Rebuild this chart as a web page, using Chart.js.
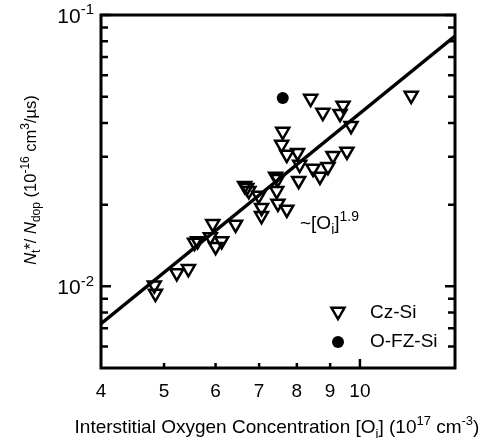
<!DOCTYPE html>
<html><head><meta charset="utf-8">
<script src="https://cdn.jsdelivr.net/npm/chart.js@4/dist/chart.umd.min.js"></script>
<style>html,body{margin:0;padding:0;background:#fff}canvas{display:block}</style>
</head><body>
<canvas id="c" width="492" height="441"></canvas>
<script>
// ---- data ----
const czX = [4.83,4.85,5.23,5.45,5.57,5.63,5.94,5.89,6.00,6.13,6.44,6.65,6.70,6.75,6.99,7.06,7.06,7.42,7.48,7.45,7.48,7.72,7.61,7.58,7.72,8.02,8.08,8.05,8.47,8.68,8.93,9.09,9.55,9.69,8.40,8.77,9.42,9.32,11.99];
const czY = [0.0101,0.0094,0.0112,0.0116,0.0145,0.0147,0.0170,0.0152,0.0140,0.0147,0.0169,0.0235,0.0231,0.0225,0.0216,0.0195,0.0182,0.0254,0.0249,0.0225,0.0202,0.0192,0.0372,0.0333,0.0306,0.0311,0.0281,0.0245,0.0272,0.0254,0.0276,0.0303,0.0314,0.0391,0.0492,0.0437,0.0464,0.0433,0.0505];
const fzX = [7.61];
const fzY = [0.0494];
const fitX = [4, 14];
const fitY = [0.00728, 0.0836];
const xTickLabels = [4,5,6,7,8,9,10];
const xMinorTicks = [5,6,7,8,9];
const xMajorTicks = [10];
const yMajorTicks = [0.01, 0.1];
const yMajorLabels = ['-2', '-1'];
const yMinorTicks = [0.006,0.007,0.008,0.009,0.02,0.03,0.04,0.05,0.06,0.07,0.08,0.09];
const seriesNames = ['Cz-Si', 'O-FZ-Si'];

const FONT = "'Liberation Sans', Arial, Helvetica, sans-serif";

function zip(a, b) { return a.map((v, i) => ({x: v, y: b[i]})); }

function drawRich(ctx, segs, x, y, size, align, ratio) {
  ratio = ratio || 0.68;
  const parts = segs.map(s => {
    const kind = s[1] || 'n';
    const fs = kind === 'n' ? size : Math.round(size * ratio);
    const font = (s[2] ? 'italic ' : '') + fs + 'px ' + FONT;
    ctx.font = font;
    const w = ctx.measureText(s[0]).width;
    const dy = kind === 'sup' ? -size * 0.42 : kind === 'sub' ? size * 0.26 : 0;
    return {t: s[0], font, w, dy};
  });
  const total = parts.reduce((a, p) => a + p.w, 0);
  let cx = align === 'center' ? x - total / 2 : align === 'right' ? x - total : x;
  ctx.textAlign = 'left';
  ctx.textBaseline = 'alphabetic';
  for (const p of parts) {
    ctx.font = p.font;
    ctx.fillText(p.t, cx, y + p.dy);
    cx += p.w;
  }
}

const framePlugin = {
  id: 'frame',
  afterDraw(chart) {
    const ctx = chart.ctx;
    const a = chart.chartArea;
    const xs = chart.scales.x, ys = chart.scales.y;
    ctx.save();
    ctx.strokeStyle = '#000';
    ctx.fillStyle = '#000';
    // ticks
    ctx.lineWidth = 2.5;
    ctx.beginPath();
    for (const v of yMinorTicks) {
      const py = ys.getPixelForValue(v);
      ctx.moveTo(a.left, py); ctx.lineTo(a.left + 7, py);
      ctx.moveTo(a.right, py); ctx.lineTo(a.right - 7, py);
    }
    for (const v of yMajorTicks) {
      const py = ys.getPixelForValue(v);
      ctx.moveTo(a.left, py); ctx.lineTo(a.left + 10, py);
      ctx.moveTo(a.right, py); ctx.lineTo(a.right - 10, py);
    }
    for (const v of xMinorTicks) {
      const px = xs.getPixelForValue(v);
      ctx.moveTo(px, a.bottom); ctx.lineTo(px, a.bottom - 5);
    }
    for (const v of xMajorTicks) {
      const px = xs.getPixelForValue(v);
      ctx.moveTo(px, a.bottom); ctx.lineTo(px, a.bottom - 9);
    }
    ctx.stroke();
    // frame
    ctx.lineWidth = 3;
    ctx.strokeRect(a.left, a.top, a.right - a.left, a.bottom - a.top);
    // x tick labels
    ctx.font = '19px ' + FONT;
    ctx.textAlign = 'center';
    ctx.textBaseline = 'middle';
    for (const v of xTickLabels) {
      ctx.fillText(String(v), xs.getPixelForValue(v), a.bottom + 24);
    }
    // y tick labels
    yMajorTicks.forEach((v, i) => {
      const py = ys.getPixelForValue(v);
      drawRich(ctx, [['10'], [yMajorLabels[i], 'sup']], a.left - 7, py + 8, 21, 'right', 0.7);
    });
    // x title
    drawRich(ctx, [['Interstitial Oxygen Concentration [O'], ['i', 'sub'], ['] (10'], ['17', 'sup'], [' cm'], ['-3', 'sup'], [')']],
      277, 433, 19, 'center', 0.7);
    // y title
    ctx.save();
    ctx.translate(36, 180);
    ctx.rotate(-Math.PI / 2);
    drawRich(ctx, [['N', 'n', true], ['t', 'sub'], ['*'], ['/ '], ['N', 'n', true], ['dop', 'sub'], [' (10'], ['-16', 'sup'], [' cm'], ['3', 'sup'], ['/\u00b5s)']],
      0, 0, 16.5, 'center', 0.72);
    ctx.restore();
    // annotation
    drawRich(ctx, [['~[O'], ['i', 'sub'], [']'], ['1.9', 'sup']], 300, 229, 19, 'left', 0.75);
    // legend
    const lx = 338;
    const ly1 = 313, ly2 = 342;
    ctx.lineWidth = 2.5;
    ctx.beginPath();
    const r = 7.5;
    ctx.moveTo(lx - r * 0.866, ly1 - r * 0.5 - 1.5);
    ctx.lineTo(lx + r * 0.866, ly1 - r * 0.5 - 1.5);
    ctx.lineTo(lx, ly1 + r - 1.5);
    ctx.closePath();
    ctx.stroke();
    ctx.beginPath();
    ctx.arc(lx, ly2, 6, 0, Math.PI * 2);
    ctx.fill();
    ctx.font = '19px ' + FONT;
    ctx.textAlign = 'left';
    ctx.textBaseline = 'middle';
    ctx.fillText(seriesNames[0], 370, ly1);
    ctx.fillText(seriesNames[1], 370, ly2);
    ctx.restore();
  }
};

new Chart(document.getElementById('c'), {
  type: 'scatter',
  data: {
    datasets: [
      {
        label: 'fit', data: zip(fitX, fitY), showLine: true,
        borderColor: '#000', borderWidth: 3.5, pointRadius: 0, fill: false, order: 3
      },
      {
        label: seriesNames[0], data: zip(czX, czY), pointStyle: 'triangle', rotation: 180,
        pointRadius: 7.5, pointBorderWidth: 2.5, borderColor: '#000', backgroundColor: 'rgba(255,255,255,0)',
        pointBackgroundColor: 'rgba(255,255,255,0)', pointBorderColor: '#000', order: 2
      },
      {
        label: seriesNames[1], data: zip(fzX, fzY), pointStyle: 'circle',
        pointRadius: 6, pointBorderWidth: 0, backgroundColor: '#000', pointBackgroundColor: '#000', order: 1
      }
    ]
  },
  options: {
    responsive: false,
    devicePixelRatio: 1,
    animation: false,
    events: [],
    layout: { padding: { left: 101, right: 37, top: 15, bottom: 73 } },
    plugins: { legend: { display: false }, tooltip: { enabled: false } },
    scales: {
      x: { type: 'logarithmic', min: 4, max: 14, display: false },
      y: { type: 'logarithmic', min: 0.005, max: 0.1, display: false }
    }
  },
  plugins: [framePlugin]
});
</script>
</body></html>
